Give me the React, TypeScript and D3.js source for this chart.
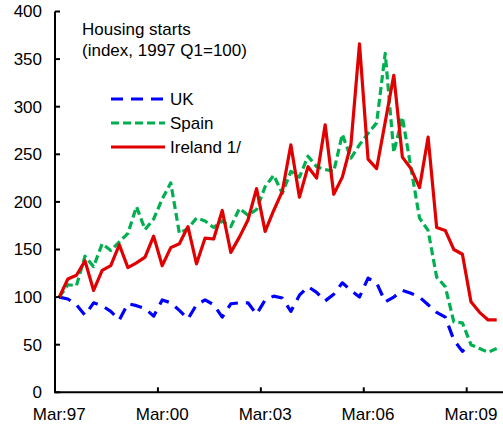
import * as React from 'react';
import * as d3 from 'd3';

// quarterly, Mar:97 .. Dec:09
const years = d3.range(1997, 2010);
const months = ['Mar', 'Jun', 'Sep', 'Dec'];
const quarters: string[] = [];
years.forEach(y => months.forEach(m => quarters.push(`${m}:${String(y).slice(2)}`)));

const ireland = [
  100, 119, 123, 138, 107, 128, 133, 155, 131, 136, 142, 164, 133, 152, 156, 174,
  135, 162, 161, 191, 147, 163, 181, 214, 169, 191, 211, 260, 205, 237, 225, 281,
  208, 226, 260, 366, 245, 235, 284, 333, 247, 235, 215, 268, 173, 170, 150, 145,
  95, 84, 76, 76
];
const spain = [
  100, 113, 112, 143, 132, 156, 149, 158, 167, 195, 171, 182, 203, 220, 167, 172,
  183, 180, 173, 180, 174, 193, 186, 192, 216, 228, 209, 232, 226, 248, 237, 234,
  232, 271, 246, 260, 272, 283, 356, 252, 289, 236, 183, 170, 121, 111, 74, 73,
  50, 46, 42, 46
];
const uk = [
  100, 98, 92, 81, 94, 91, 85, 76, 93, 91, 88, 80, 97, 94, 86, 77,
  92, 97, 92, 79, 93, 94, 94, 82, 97, 101, 99, 85, 102, 111, 105, 96,
  103, 115, 107, 100, 120, 115, 95, 100, 107, 104, 100, 92, 84, 79, 55, 43,
  52
];
const yTicks = [0, 50, 100, 150, 200, 250, 300, 350, 400];
const xLabels = ['Mar:97', 'Mar:00', 'Mar:03', 'Mar:06', 'Mar:09'];

const series = [
  { name: 'UK', values: uk, color: '#0000ff', dash: '12 8' },
  { name: 'Spain', values: spain, color: '#00b050', dash: '8 4' },
  { name: 'Ireland 1/', values: ireland, color: '#e00000', dash: undefined }
];

const W = 503, H = 429;
const font = '"Liberation Sans", Arial, sans-serif';

export default function App() {
  const x = d3.scaleBand<string>().domain(quarters).range([55, 501]).padding(0);
  const y = d3.scaleLinear().domain([0, 400]).range([392.3, 11.5]);
  const bw = x.bandwidth();
  const cx = (i: number) => (x(quarters[i]) as number) + bw / 2;

  const line = d3.line<number>()
    .x((_, i) => cx(i))
    .y(d => y(d));

  return (
    <svg width={W} height={H} style={{ position: 'absolute', left: 0, top: 0 }}
      fontFamily={font}>
      <rect width={W} height={H} fill="#fff" />

      {/* series */}
      {series.map(s => (
        <path key={s.name} d={line(s.values) || ''} fill="none" stroke={s.color}
          strokeWidth={3.2} strokeDasharray={s.dash} strokeLinejoin="round" />
      ))}

      {/* y axis */}
      <line x1={55} x2={55} y1={y(400)} y2={y(0)} stroke="#000" strokeWidth={2} />
      {yTicks.map(t => (
        <g key={t}>
          <line x1={55} x2={60} y1={y(t)} y2={y(t)} stroke="#000" strokeWidth={2} />
          <text x={42} y={y(t)} dy="0.35em" textAnchor="end" fontSize={17}>{t}</text>
        </g>
      ))}

      {/* x axis */}
      <line x1={54} x2={503} y1={y(0)} y2={y(0)} stroke="#000" strokeWidth={2} />
      {xLabels.map(l => {
        const x0 = x(l) as number;
        return (
          <g key={l}>
            <line x1={x0} x2={x0} y1={y(0)} y2={y(0) - 5} stroke="#000" strokeWidth={2} />
            <text x={x0 + bw / 2} y={420} textAnchor="middle" fontSize={17}>{l}</text>
          </g>
        );
      })}

      {/* title */}
      <text x={82} y={35} fontSize={17}>Housing starts</text>
      <text x={82} y={56} fontSize={17}>(index, 1997 Q1=100)</text>

      {/* legend */}
      {series.map((s, i) => (
        <g key={s.name} transform={`translate(0, ${99 + i * 24})`}>
          <line x1={111} x2={165} y1={0} y2={0} stroke={s.color} strokeWidth={3.2}
            strokeDasharray={s.dash} />
          <text x={170} y={6} fontSize={17}>{s.name}</text>
        </g>
      ))}
    </svg>
  );
}
